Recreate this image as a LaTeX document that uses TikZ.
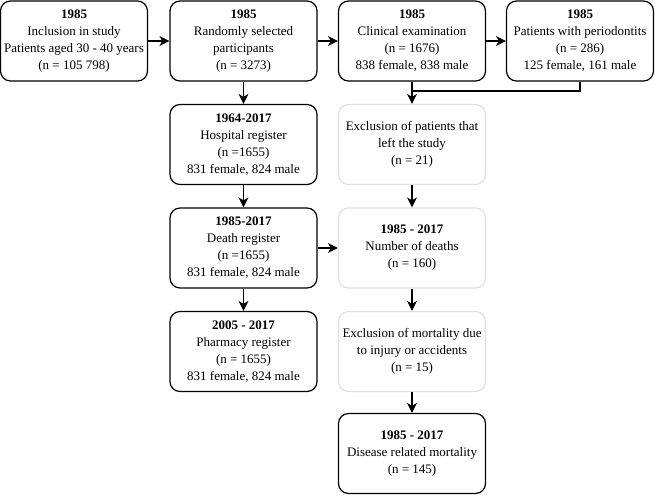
\documentclass[tikz,border=0pt]{standalone}
\usepackage{fontspec}
\setmainfont{Liberation Serif}
\usetikzlibrary{arrows.meta}
\begin{document}
\begin{tikzpicture}[x=1pt,y=-1pt,
 box/.style={draw=black,line width=1.2pt,rounded corners=10pt,minimum width=147pt,minimum height=80pt,align=center,font=\fontsize{13}{17}\selectfont,inner sep=1pt},
 lbox/.style={box,draw=black!12},
 arr/.style={-{Stealth[length=10pt,width=10pt,inset=3pt]},line width=1.2pt}]
\useasboundingbox (0,0) rectangle (655,496);
\node[box] (a) at (74,41) {\textbf{1985}\\Inclusion in study\\Patients aged 30 - 40 years\\(n = 105 798)};
\node[box] (b) at (243.5,41) {\textbf{1985}\\Randomly selected\\participants\\(n = 3273)};
\node[box] (c) at (412,41) {\textbf{1985}\\Clinical examination\\(n = 1676)\\838 female, 838 male};
\node[box] (d) at (580,41) {\textbf{1985}\\Patients with periodontits\\(n = 286)\\125 female, 161 male};
\node[box] (h) at (243.5,144.5) {\textbf{1964-2017}\\Hospital register\\(n =1655)\\831 female, 824 male};
\node[box] (dr) at (243.5,248) {\textbf{1985-2017}\\Death register\\(n =1655)\\831 female, 824 male};
\node[box] (p) at (243.5,351.5) {\textbf{2005 - 2017}\\Pharmacy register\\(n = 1655)\\831 female, 824 male};
\node[lbox] (e1) at (412,144.5) {Exclusion of patients that\\left the study\\(n = 21)};
\node[lbox] (nd) at (412,248) {\textbf{1985 - 2017}\\Number of deaths\\(n = 160)};
\node[lbox] (e2) at (412,351.5) {Exclusion of mortality due\\to injury or accidents\\(n = 15)};
\node[box] (m) at (412,453.5) {\textbf{1985 - 2017}\\Disease related mortality\\(n = 145)};
\draw[arr] (a) -- (b);
\draw[arr] (b) -- (c);
\draw[arr] (c) -- (d);
\draw[arr] (b) -- (h);
\draw[arr] (h) -- (dr);
\draw[arr] (dr) -- (p);
\draw[arr] (dr) -- (nd);
\draw[arr] (c) -- (e1);
\coordinate (j) at (412,91);
\draw[line width=1.2pt] (d.south) |- (j);
\draw[arr] (e1) -- (nd);
\draw[arr] (nd) -- (e2);
\draw[arr] (e2) -- (m);
\end{tikzpicture}
\end{document}
